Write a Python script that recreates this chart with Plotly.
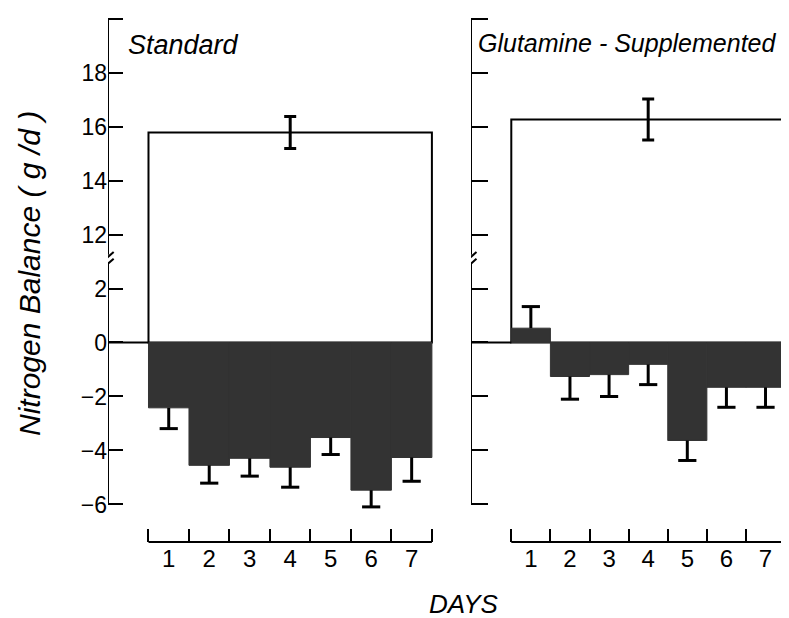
import plotly.graph_objects as go

# Days on the x axis
days = [1, 2, 3, 4, 5, 6, 7]
day_labels = ["1", "2", "3", "4", "5", "6", "7"]

# Daily nitrogen balance (g/d) and SEM
std_balance = [-2.42, -4.55, -4.29, -4.62, -3.52, -5.47, -4.26]
std_err = [0.77, 0.66, 0.66, 0.74, 0.63, 0.62, 0.88]
glu_balance = [0.53, -1.26, -1.19, -0.81, -3.63, -1.66, -1.66]
glu_err = [0.80, 0.84, 0.81, 0.75, 0.74, 0.74, 0.74]

# Nitrogen intake (open bar over the whole week) and its SEM
std_intake = 15.78
std_intake_err = 0.59
glu_intake = 16.26
glu_intake_err = 0.76

# y axis is broken between 2 and 12; upper part is shifted down by 8
BREAK_SHIFT = 8
y_tickvals = [-6, -4, -2, 0, 2, 12, 14, 16, 18, 20]
y_ticktext = ["\u22126", "\u22124", "\u22122", "0", "2", "12", "14", "16", "18", ""]

FONT = "Liberation Sans, Arial, sans-serif"
DARK = "#333333"
# page body has an 8px margin, so the figure is a bit smaller than the window
OFF = 8
W, H = 789 - OFF, 618 - OFF


def to_display(v):
    """Map a true value onto the broken axis."""
    return v - BREAK_SHIFT if v > 10 else v


def px(x):
    return (x - OFF) / W


def py(y):
    return 1 - (y - OFF) / H


fig = go.Figure()

panels = [
    ("x", "y", std_balance, std_err, std_intake, std_intake_err),
    ("x2", "y2", glu_balance, glu_err, glu_intake, glu_intake_err),
]

for xa, ya, bal, err, intake, intake_err in panels:
    # open intake bar
    fig.add_trace(go.Bar(
        x=[sum(days) / len(days)], y=[to_display(intake)], width=[len(days)],
        marker=dict(color="white", line=dict(color="black", width=2)),
        error_y=dict(type="data", array=[intake_err], color="black",
                     thickness=3, width=6),
        xaxis=xa, yaxis=ya, showlegend=False,
    ))
    # daily balance bars
    fig.add_trace(go.Bar(
        x=days, y=bal, width=1,
        marker=dict(color=DARK, line=dict(color=DARK, width=1)),
        xaxis=xa, yaxis=ya, showlegend=False,
    ))
    # one-sided error bars pointing away from zero
    ends = [b + e if b > 0 else b - e for b, e in zip(bal, err)]
    stem_x, stem_y = [], []
    for d, b, t in zip(days, bal, ends):
        stem_x += [d, d, None]
        stem_y += [b, t, None]
    fig.add_trace(go.Scatter(
        x=stem_x, y=stem_y, mode="lines", line=dict(color="black", width=3),
        xaxis=xa, yaxis=ya, showlegend=False, hoverinfo="skip",
    ))
    fig.add_trace(go.Scatter(
        x=days, y=ends, mode="markers",
        marker=dict(symbol="line-ew", size=13, line=dict(color="black", width=3)),
        xaxis=xa, yaxis=ya, showlegend=False,
    ))

y_range = [-7.39, 12.39]
y_domain = [(H - 534) / H, 1]

common_y = dict(
    range=y_range, domain=y_domain, tickvals=[to_display(v) for v in y_tickvals],
    showline=False, showgrid=False, zeroline=False, ticks="inside",
    tickcolor="black", tickwidth=2, fixedrange=True,
)
common_x = dict(
    tickvals=days, ticktext=day_labels, ticks="", showline=False,
    showgrid=False, zeroline=False, fixedrange=True,
    tickfont=dict(family=FONT, size=24, color="black"),
    minor=dict(tickvals=[d - 0.5 for d in days] + [days[-1] + 0.5],
               ticks="inside", ticklen=13, tickwidth=2, tickcolor="black"),
)

fig.update_layout(
    width=W, height=H, margin=dict(l=0, r=0, t=0, b=0),
    paper_bgcolor="white", plot_bgcolor="white", barmode="overlay",
    xaxis=dict(common_x, domain=[px(108), px(440)], range=[-0.5, 7.7], anchor="y"),
    xaxis2=dict(common_x, domain=[px(471), 1], range=[-0.53, 7.6], anchor="y2"),
    yaxis=dict(common_y, anchor="x", ticklen=15, ticktext=y_ticktext,
               tickfont=dict(family=FONT, size=23, color="black")),
    yaxis2=dict(common_y, anchor="x2", ticklen=17, showticklabels=False),
)

# axis lines with break marks, zero stubs and day-axis baselines
shapes = []
for xa, ya, x_axis in [("x", "y", -0.5), ("x2", "y2", -0.53)]:
    line = dict(color="black", width=2)
    shapes += [
        dict(type="line", xref=xa, yref=ya, x0=x_axis, x1=x_axis, y0=-6, y1=2.95, line=line),
        dict(type="line", xref=xa, yref=ya, x0=x_axis, x1=x_axis, y0=3.25, y1=12, line=line),
        dict(type="line", xref=xa, yref=ya, x0=x_axis - 0.17, x1=x_axis + 0.14,
             y0=2.7, y1=3.1, line=line),
        dict(type="line", xref=xa, yref=ya, x0=x_axis - 0.17, x1=x_axis + 0.14,
             y0=2.95, y1=3.35, line=line),
        dict(type="line", xref=xa, yref=ya, x0=x_axis, x1=0.5, y0=0, y1=0, line=line),
        dict(type="line", xref=xa, yref=ya + " domain", x0=0.5, x1=7.5, y0=0, y1=0, line=line),
    ]
fig.update_layout(shapes=shapes)

fig.add_annotation(text="Standard", xref="paper", yref="paper",
                   x=px(126), y=py(45), xanchor="left", yanchor="middle",
                   showarrow=False,
                   font=dict(family=FONT, size=27, color="black", style="italic"))
fig.add_annotation(text="Glutamine - Supplemented", xref="paper", yref="paper",
                   x=px(476), y=py(43), xanchor="left", yanchor="middle",
                   showarrow=False,
                   font=dict(family=FONT, size=25, color="black", style="italic"))
fig.add_annotation(text="Nitrogen Balance ( g /d )", xref="paper", yref="paper",
                   x=px(29), y=py(274), xanchor="center", yanchor="middle",
                   textangle=-90, showarrow=False,
                   font=dict(family=FONT, size=30, color="black", style="italic"))
fig.add_annotation(text="DAYS", xref="paper", yref="paper",
                   x=px(464), y=py(604), xanchor="center", yanchor="middle",
                   showarrow=False,
                   font=dict(family=FONT, size=26, color="black", style="italic"))

fig.write_html("out.html")
